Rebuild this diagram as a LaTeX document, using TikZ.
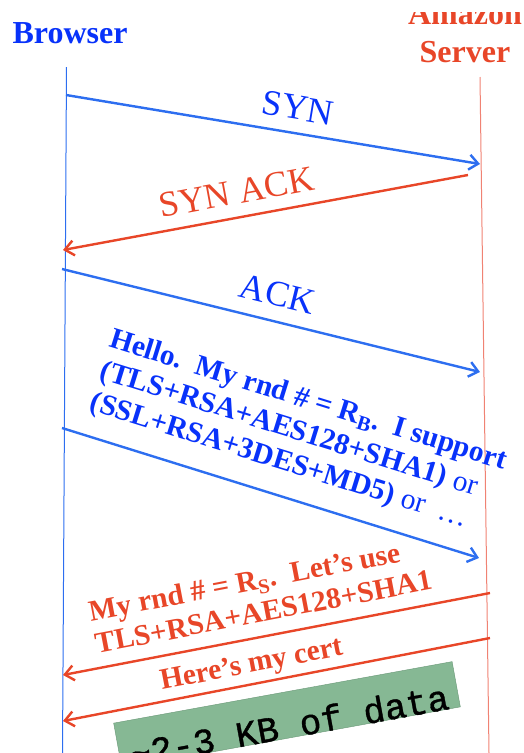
\documentclass[tikz,border=0pt]{standalone}
\usepackage{fontspec}
\setmainfont{Liberation Serif}
\setmonofont{Liberation Mono}
\newfontfamily\kbfont[FakeBold=1]{Liberation Mono}
\usetikzlibrary{arrows.meta,positioning}
\definecolor{brblue}{RGB}{8,50,250}
\definecolor{lnblue}{RGB}{45,110,240}
\definecolor{svred}{RGB}{232,70,40}
\definecolor{lfred}{RGB}{240,130,115}
\definecolor{kbgreen}{RGB}{134,184,148}
\definecolor{kbedge}{RGB}{105,150,118}

\begin{document}
\begin{tikzpicture}[x=1pt,y=-1pt,
    >={Straight Barb[length=9pt,width=15pt]},
    msg/.style={->,line width=2.4pt},
    lbl/.style={sloped,inner sep=0pt,font=\fontsize{36}{40}\selectfont},
    blbl/.style={sloped,inner sep=0pt,align=left,font=\bfseries\fontsize{29.5}{33}\selectfont},
    who/.style={inner sep=0pt,anchor=south,align=center,font=\bfseries\fontsize{32}{38}\selectfont}]
  \useasboundingbox (0,0) rectangle (523,753);
  \clip (0,0) rectangle (523,753);

  % the two ends
  \node[who,text=brblue] (browser) at (70,44) {Browser};
  \begin{scope}
    \clip (380,12) rectangle (523,80);
    \node[who,text=svred] (server) at (465,63) {Amazon\\Server};
  \end{scope}

  \coordinate (bt) at (66.5,67);
  \coordinate (bb) at (62.5,753);
  \coordinate (st) at (480,77);
  \coordinate (sb) at (489,753);
  \draw[lnblue,line width=1pt] (bt) -- (bb);
  \draw[lfred,line width=1pt] (st) -- (sb);

  % where the messages leave and arrive
  \coordinate (b1) at (66,95);   \coordinate (s1) at (480,164);
  \coordinate (s2) at (468,175); \coordinate (b2) at (63,250);
  \coordinate (b3) at (62,269);  \coordinate (s3) at (480,372);
  \coordinate (b4) at (62,428);  \coordinate (s4) at (479,558);
  \coordinate (s5) at (490,593); \coordinate (b5) at (63,675);
  \coordinate (s6) at (490,638); \coordinate (b6) at (63,721);

  \path[msg]
    (b1) edge[lnblue] node[lbl,pos=.55,above=12pt,text=brblue] {SYN} (s1)
    (s2) edge[svred] node[lbl,pos=.56,above=12pt,text=svred] {SYN ACK} (b2)
    (b3) edge[lnblue] node[lbl,pos=.5,above=14pt,text=brblue] {ACK} (s3)
    (b4) edge[lnblue] node[blbl,pos=.52,above=18pt,text=brblue]
      {Hello.\ \ My rnd \# = R\textsubscript{B}.\ \ I support\\
       (TLS+RSA+AES128+SHA1) \textmd{or}\\
       (SSL+RSA+3DES+MD5) \textmd{or\ \ \dots}} (s4)
    (s5) edge[svred] node[blbl,pos=.52,above=13pt,text=svred]
      {My rnd \# = R\textsubscript{S}.\ \ Let’s use\\TLS+RSA+AES128+SHA1} (b5)
    (s6) edge[svred] node[blbl,pos=.55,above=4pt,text=svred] {Here’s my cert} (b6);

  % certificate size
  \node[draw=kbedge,fill=kbgreen,rotate=10.3,minimum width=344pt,minimum height=46pt,inner sep=0pt] (kb) at (287,715) {};
  \node[rotate=10.3,anchor=base,inner sep=0pt,font=\kbfont\fontsize{36}{36}\selectfont] (kbtext) at (kb.south) {\textasciitilde2-3 KB of data};
\end{tikzpicture}
\end{document}
